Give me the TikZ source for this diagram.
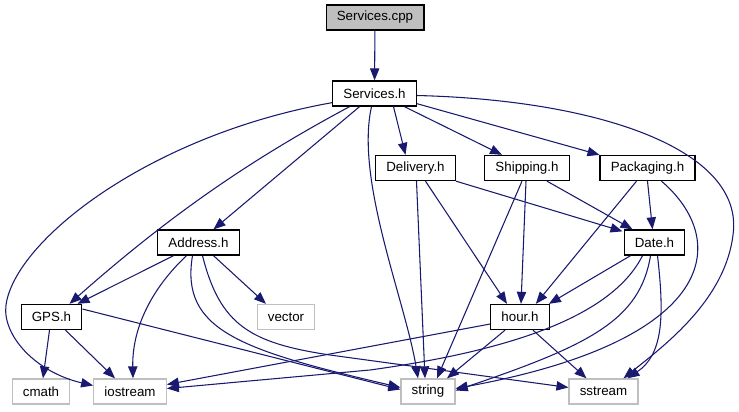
\documentclass[tikz,border=0pt]{standalone}
\usepackage{fontspec}
\setmainfont{Liberation Sans}
\usetikzlibrary{arrows.meta,calc}
\definecolor{edgeblue}{HTML}{191970}
\definecolor{sysgray}{HTML}{BFBFBF}
\begin{document}
\begin{tikzpicture}[x=0.75pt,y=-0.75pt,
    box/.style={draw,line width=1pt,minimum height=18.75pt,inner xsep=8pt,inner ysep=0pt,font=\fontsize{10}{12}\selectfont},
    hdr/.style={box,draw=black,fill=white},
    src/.style={box,draw=black,fill=sysgray},
    sys/.style={box,draw=sysgray,fill=white},
    dep/.style={draw=edgeblue,line width=0.8pt,-{Triangle[length=9pt,width=7pt]}}]
  \useasboundingbox (0,0) rectangle (739,411);
  \node[src] (cpp) at (375,17.5) {Services.cpp};
  \node[hdr] (svh) at (374.5,93.5) {Services.h};
  \node[hdr] (del) at (415.5,168) {Delivery.h};
  \node[hdr] (shp) at (527,168) {Shipping.h};
  \node[hdr] (pkg) at (647.5,168) {Packaging.h};
  \node[hdr] (date) at (654.5,242.5) {Date.h};
  \node[hdr] (addr) at (198.5,242.5) {Address.h};
  \node[hdr] (gps) at (51.5,317) {GPS.h};
  \node[sys] (vec) at (286,317) {vector};
  \node[hdr] (hour) at (520,317) {hour.h};
  \node[sys] (cmath) at (41,391.5) {cmath};
  \node[sys] (iost) at (130,391.5) {iostream};
  \node[sys] (str) at (428,391.5) {string};
  \node[sys] (sst) at (603.5,391.5) {sstream};

  \draw[dep] (cpp) -- (svh);
  \draw[dep] ($(svh.south)+(19,0)$) -- ($(del.north)+(-10,0)$);
  \draw[dep] ($(svh.south)+(30,0)$) -- ($(shp.north)+(-25,0)$);
  \draw[dep] ($(svh.south east)+(0,-3)$) -- (pkg.north west);
  \draw[dep] ($(svh.south)+(-15,0)$) -- ($(addr.north)+(15,0)$);
  \draw[dep] ($(svh.south)+(-25,0)$) .. controls (250,160) and (170,215) .. ($(gps.north)+(18,0)$);
  \draw[dep] ($(svh.south west)+(0,-4)$) .. controls (150,135) and (15,240) .. (6,305)
    .. controls (2,335) and (35,372) .. ($(iost.west)+(0,-6)$);
  \draw[dep] ($(svh.south)+(-3,0)$) .. controls (355,180) and (405,300) .. ($(str.north)+(-10,0)$);
  \draw[dep] ($(svh.east)+(0,2)$) .. controls (600,100) and (745,150) .. (733,235)
    .. controls (725,300) and (665,345) .. ($(sst.north)+(20,0)$);

  \draw[dep] ($(addr.south)+(-25,0)$) -- ($(gps.north east)+(-5,0)$);
  \draw[dep] ($(addr.south)+(-12,0)$) .. controls (150,290) and (132,330) .. ($(iost.north)+(3,0)$);
  \draw[dep] ($(addr.south)+(15,0)$) -- ($(vec.north)+(-20,0)$);
  \draw[dep] ($(addr.south)+(-6,0)$) .. controls (180,330) and (240,350) .. ($(str.west)+(0,-4)$);
  \draw[dep] ($(addr.south)+(4,0)$) .. controls (220,325) and (250,343) .. (330,355) -- ($(sst.west)+(0,-4)$);

  \draw[dep] ($(gps.south)+(-2,0)$) -- ($(cmath.north)+(2,0)$);
  \draw[dep] ($(gps.south)+(14,0)$) -- ($(iost.north)+(-15,0)$);
  \draw[dep] ($(gps.east)+(0,-8)$) -- ($(str.west)+(0,-2)$);

  \draw[dep] (del.south east) -- ($(date.north west)+(-1,2)$);
  \draw[dep] ($(del.south)+(10,0)$) -- ($(hour.north)+(-13,0)$);
  \draw[dep] ($(del.south)+(1,0)$) -- ($(str.north)+(-3,0)$);

  \draw[dep] ($(shp.south)+(20,0)$) -- ($(date.north west)+(9,0)$);
  \draw[dep] ($(shp.south)+(-1,0)$) -- ($(hour.north)+(1,0)$);
  \draw[dep] ($(shp.south)+(-5,0)$) -- ($(str.north)+(9,0)$);

  \draw[dep] (pkg.south) -- ($(date.north)+(-2,0)$);
  \draw[dep] ($(pkg.south)+(-11,0)$) -- ($(hour.north east)+(-14,0)$);
  \draw[dep] ($(pkg.south)+(14,0)$) .. controls (730,240) and (720,340) .. ($(str.east)+(0,-3)$);

  \draw[dep] ($(date.south west)+(7,0)$) -- ($(hour.north east)+(-1,0)$);
  \draw[dep] ($(date.south)+(-12,0)$) .. controls (610,320) and (500,352) .. (370,370) -- ($(iost.east)+(0,-3)$);
  \draw[dep] ($(date.south)+(-4,0)$) .. controls (640,320) and (590,345) .. ($(str.east)+(0,-1)$);
  \draw[dep] ($(date.south)+(3,0)$) .. controls (665,320) and (662,355) .. ($(sst.north)+(24,0)$);

  \draw[dep] ($(hour.west)+(0,7)$) -- ($(iost.east)+(0,-7)$);
  \draw[dep] ($(hour.south)+(-15,0)$) -- ($(str.north)+(19,0)$);
  \draw[dep] ($(hour.south)+(13,0)$) -- ($(sst.north)+(-17,0)$);
\end{tikzpicture}
\end{document}
